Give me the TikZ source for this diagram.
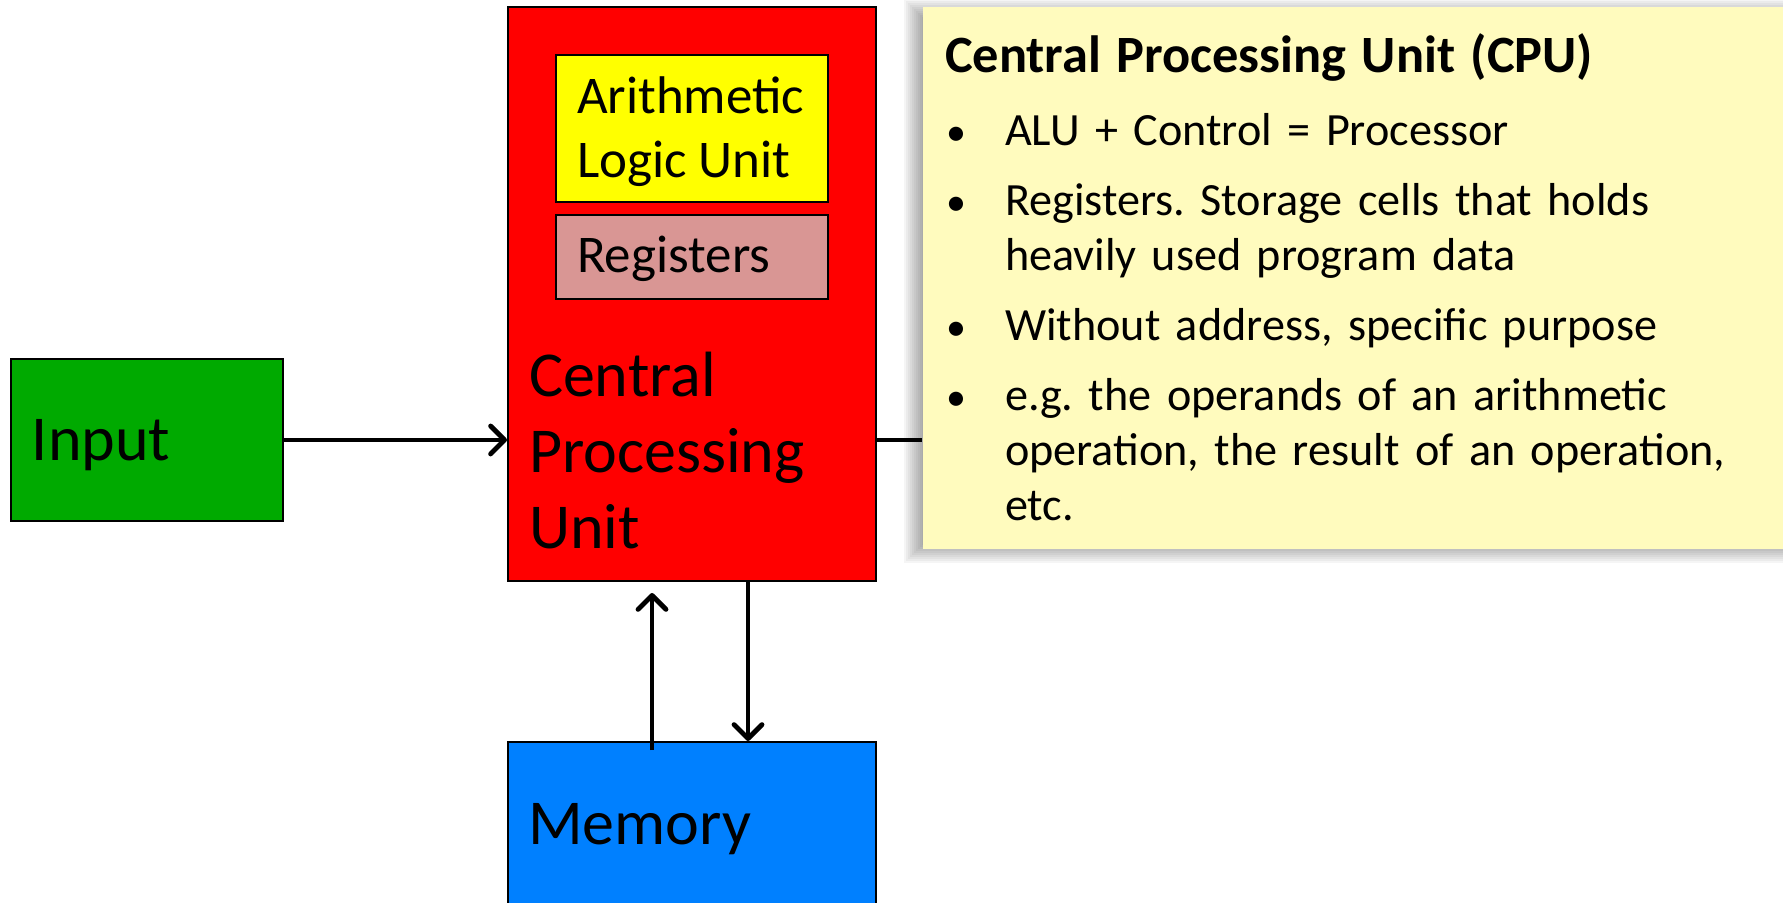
\documentclass[tikz,border=0pt]{standalone}
\usepackage{fontspec}
\setmainfont{Carlito}
\usetikzlibrary{arrows.meta,backgrounds}

\definecolor{inputgreen}{RGB}{0,170,0}
\definecolor{cpured}{RGB}{255,0,0}
\definecolor{aluyellow}{RGB}{255,255,0}
\definecolor{regpink}{RGB}{217,150,148}
\definecolor{memblue}{RGB}{0,128,255}
\definecolor{noteyellow}{RGB}{255,251,190}

\newcommand\cpuitem[1]{\par\vspace{7.5pt}\hangindent=30pt\hangafter=1\noindent
  \makebox[30pt][l]{\hspace*{0.5pt}{\fontsize{20}{20}\selectfont\textbullet}}#1\par}

\begin{document}
\begin{tikzpicture}[x=0.5pt,y=-0.5pt]
\tikzstyle{every path}=[line width=1pt]
\tikzstyle{unitbox}=[draw=black,rectangle,inner sep=0pt]
\tikzstyle{unitlabel}=[inner sep=0pt,anchor=base west,align=left,font=\fontsize{32}{38}\selectfont]
\tikzstyle{partlabel}=[unitlabel,font=\fontsize{26.5}{32}\selectfont]
\tikzstyle{busline}=[line width=2.4pt,-{Straight Barb[length=7pt,width=14pt,round]}]

\useasboundingbox (0,0) rectangle (1783,903);

%% Input block
\node [unitbox,fill=inputgreen,minimum width=136pt,minimum height=81pt] (input) at (147,440) {};
\node [unitlabel] (inputtext) at (31,461) {Input};

%% CPU and the parts inside it (multi-line labels sit on their last baseline)
\node [unitbox,fill=cpured,minimum width=184pt,minimum height=287pt] (cpu) at (692,294) {};
\node [unitbox,fill=aluyellow,minimum width=136pt,minimum height=73.5pt] (alu) at (692,128.5) {};
\node [partlabel] (alutext) at (576,178) {Arithmetic\\Logic Unit};
\node [unitbox,fill=regpink,minimum width=136pt,minimum height=42pt] (regs) at (692,257) {};
\node [partlabel] (regstext) at (576,273) {Registers};
\node [unitlabel] (cputext) at (528,548) {Central\\Processing\\Unit};

%% Memory below the CPU
\node [unitbox,fill=memblue,minimum width=184pt,minimum height=90pt] (mem) at (692,832) {};
\node [unitlabel] (memtext) at (527,844) {Memory};

%% Note on the right
\node [fill=noteyellow,inner sep=0pt,minimum width=438.5pt,minimum height=271pt] (note) at (1361.5,278) {};
\node [anchor=base west,inner sep=0pt,text width=440pt,align=left,font=\fontsize{23.1}{27.5}\selectfont\frenchspacing] (notetext) at (944,73) {%
{\fontsize{26.2}{27.5}\selectfont\bfseries Central Processing Unit (CPU)}\par\vspace{1.5pt}
\cpuitem{ALU + Control = Processor}
\cpuitem{Registers. Storage cells that holds\newline heavily used program data}
\cpuitem{Without address, specific purpose}
\cpuitem{e.g. the operands of an arithmetic\newline operation, the result of an operation,\newline etc.}};

%% Shadow of the note and its line to the CPU
\begin{scope}[on background layer]
  \foreach \g in {5,4,...,-5}
    \fill [black,opacity=0.04] ([xshift={-4pt-(\g*1pt)},yshift={-1.5pt+(\g*1pt)}]note.north west)
      rectangle ([xshift={-4pt+(\g*1pt)},yshift={-1.5pt-(\g*1pt)}]note.south east);
  \draw [line width=2.4pt] (cpu.east |- input.east) -- (note.west |- input.east);
\end{scope}

%% Buses
\draw [busline] (input.east) -- (cpu.west |- input.east);
\draw [busline] ([xshift=-20pt,yshift=-4.5pt]mem.north) -- ([xshift=-20pt,yshift=-5.5pt]cpu.south);
\draw [busline] ([xshift=28pt]cpu.south) -- ([xshift=28pt]mem.north);
\end{tikzpicture}
\end{document}
